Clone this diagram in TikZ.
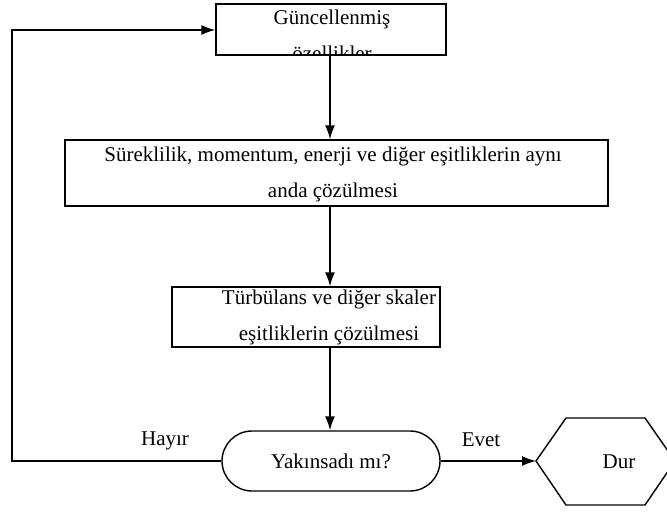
\documentclass[tikz,border=0pt]{standalone}
\usepackage{fontspec}
\setmainfont{Liberation Serif}
\usetikzlibrary{shapes.misc,arrows.meta}
\begin{document}
\begin{tikzpicture}[x=1pt,y=-1pt,line width=1.4pt,
  >={Latex[length=14pt,width=10pt]},
  box/.style={draw,rectangle,inner sep=0pt},
  txt/.style={font=\fontsize{21}{36}\selectfont,align=center,inner sep=0pt},
  lbl/.style={font=\fontsize{21}{25}\selectfont,inner sep=0pt}]
\useasboundingbox (0,0) rectangle (667,512);
% top box
\node[box,minimum width=230pt,minimum height=51pt] (upd) at (331,29.5) {};
\begin{scope}
\clip (upd.south west) rectangle (upd.north east);
\node[txt] (updt) at (332,35) {Güncellenmiş\\özellikler};
\end{scope}
% second box
\node[box,minimum width=543pt,minimum height=66pt] (solve) at (336.5,173) {};
\node[txt] (solvet) at (333,174)
  {Süreklilik, momentum, enerji ve diğer eşitliklerin aynı\\anda çözülmesi};
% third box
\node[box,minimum width=268pt,minimum height=60pt] (turb) at (306,317) {};
\node[txt] (turbt) at (329,317)
  {Türbülans ve diğer skaler\\eşitliklerin çözülmesi};
% decision
\node[draw,rounded rectangle,txt,minimum width=218pt,minimum height=60pt] (conv) at (331,461)
  {Yakınsadı mı?};
% stop hexagon
\coordinate (hexw) at (536,461);
\draw (hexw) -- (566,418) -- (645,418) -- (675,461) -- (645,505) -- (566,505) -- cycle;
\node[lbl] (stop) at (619,462) {Dur};
% connectors
\draw[->] (upd.south -| 330,0) -- (330,0 |- solve.north);
\draw[->] (330,0 |- solve.south) -- (330,0 |- turb.north);
\draw[->] (330,0 |- turb.south) -- (330,0 |- conv.north);
\draw[->] (conv.east) -- (hexw);
\coordinate (lb) at (12,461);
\coordinate (lt) at (12,30);
\draw[->] (conv.west) -- (lb) -- (lt) -- (upd.west |- lt);
\node[lbl] (no) at (165,441) {Hayır};
\node[lbl] (yes) at (481,440) {Evet};
\end{tikzpicture}
\end{document}
